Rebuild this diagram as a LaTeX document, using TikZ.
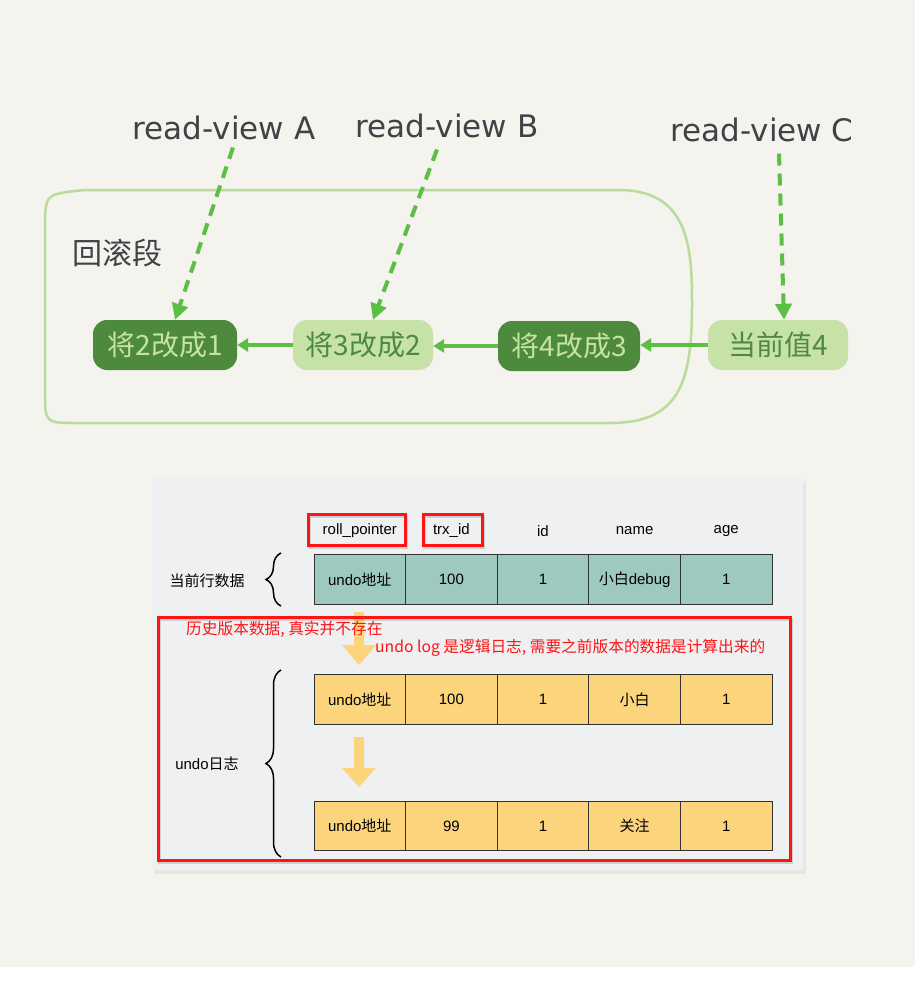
\documentclass[tikz,border=0pt]{standalone}
\usepackage{fontspec}
\setmainfont{Liberation Sans}
\newfontfamily\cjk{Noto Sans CJK SC}
\newfontfamily\hand{DejaVu Sans}
\usetikzlibrary{
    arrows.meta,
    decorations.pathreplacing
}

\definecolor{bgpaper}{HTML}{F4F3EE}
\definecolor{panelgray}{HTML}{EEF0F2}
\definecolor{darkleaf}{HTML}{4E8A3D}
\definecolor{lightleaf}{HTML}{C6E2A7}
\definecolor{leafline}{HTML}{B9DB9C}
\definecolor{leafarrow}{HTML}{5DBE45}
\definecolor{inkgray}{HTML}{3D4346}
\definecolor{rowteal}{HTML}{9DC9BF}
\definecolor{rowyellow}{HTML}{FCD47C}
\definecolor{markred}{HTML}{FF1414}

\begin{document}
\begin{tikzpicture}[x=1pt, y=-1pt,
    viewlabel/.style={text=inkgray, font=\hand\fontsize{31}{34}\selectfont},
    leafdark/.style={fill=darkleaf, text=lightleaf, rounded corners=14pt, minimum height=50pt,
        inner sep=0pt, font=\cjk\fontsize{28}{30}\selectfont},
    leaflight/.style={fill=lightleaf, text=darkleaf, rounded corners=14pt, minimum height=50pt,
        inner sep=0pt, font=\cjk\fontsize{28}{30}\selectfont},
    undoarrow/.style={leafarrow, line width=3.5pt, -{Triangle[length=11pt,width=13pt]}},
    viewarrow/.style={leafarrow, line width=4pt, dash pattern=on 12pt off 8pt,
        -{Triangle[length=16pt,width=16pt]}},
    cell/.style={draw=black!80, line width=0.8pt, minimum width=91.6pt, minimum height=49.5pt,
        inner sep=0pt, font=\fontsize{15}{18}\selectfont},
    colhead/.style={font=\fontsize{15}{18}\selectfont, inner sep=0pt},
    redbox/.style={draw=markred, line width=3pt},
    redshade/.style={draw=black, opacity=0.14, line width=3pt, shift={(1.5,2)}},
    rednote/.style={text=markred, anchor=west, inner sep=0pt, font=\cjk\fontsize{15.7}{18}\selectfont},
    bigarrow/.style={fill=rowyellow}
  ]
    \useasboundingbox (0,0) rectangle (915,983);
    \fill[white] (0,0) rectangle (915,983);
    \fill[bgpaper] (0,0) rectangle (915,967);

    % Rollback segment
    \draw[leafline, line width=2.5pt] (45,228) .. controls (45,194) .. (85,190) -- (622,190)
        .. controls (690,192) and (692,250) .. (692,305)
        .. controls (692,385) and (678,423) .. (610,423) -- (78,423)
        .. controls (45,423) .. (45,392) -- cycle;
    \node[text=inkgray, font=\cjk\fontsize{30}{32}\selectfont] (seg) at (117,253) {回滚段};

    % Versions in the undo chain
    \node[leafdark, minimum width=144pt] (v1) at (165,345) {将2改成1};
    \node[leaflight, minimum width=140pt] (v2) at (363,345) {将3改成2};
    \node[leafdark, minimum width=142pt] (v3) at (569,346) {将4改成3};
    \node[leaflight, minimum width=140pt] (v4) at (778,345) {当前值4};

    \draw[undoarrow] (v2.west) -- (v2.west -| v1.east);
    \draw[undoarrow] (v3.west) -- (v3.west -| v2.east);
    \draw[undoarrow] (v4.west) -- (v4.west -| v3.east);

    % Read views
    \node[viewlabel] (rvA) at (224,128) {read-view A};
    \node[viewlabel] (rvB) at (447,126) {read-view B};
    \node[viewlabel] (rvC) at (762,130) {read-view C};

    \draw[viewarrow] ([xshift=9pt, yshift=-4pt]rvA.south) -- ([xshift=10pt]v1.north);
    \draw[viewarrow] ([xshift=-10pt, yshift=-8pt]rvB.south) -- ([xshift=10pt]v2.north);
    \draw[viewarrow] ([xshift=17pt, yshift=-8pt]rvC.south) -- ([xshift=6pt]v4.north);

    % Table panel
    \fill[black, opacity=0.05] (154,481) rectangle (806,874);
    \fill[panelgray] (152,478) rectangle (803,870);

    % Column heads
    \foreach \txt [count=\i] in {roll\_pointer, trx\_id, id, name, age}
        \node[colhead] (h\i) at ({314+91.6*(\i-0.5)},531) {\txt};
    \draw[redshade] (308,514) rectangle (405,545);
    \draw[redshade] (423,514) rectangle (482,545);
    \draw[redbox] (308,514) rectangle (405,545);
    \draw[redbox] (423,514) rectangle (482,545);

    % Current row
    \foreach \txt [count=\i] in {undo{\cjk 地址}, 100, 1, {\cjk 小白}debug, 1}
        \node[cell, fill=rowteal] (a\i) at ({314+91.6*(\i-0.5)},579.5) {\txt};
    \node[font=\cjk\fontsize{15}{18}\selectfont] (cur) at (207,581) {当前行数据};
    \draw[decorate, decoration={brace, amplitude=15pt}, line width=1.5pt] (281,606) -- (281,553);

    % Undo log rows
    \foreach \txt [count=\i] in {undo{\cjk 地址}, 100, 1, {\cjk 小白}, 1}
        \node[cell, fill=rowyellow] (b\i) at ({314+91.6*(\i-0.5)},699.5) {\txt};
    \foreach \txt [count=\i] in {undo{\cjk 地址}, 99, 1, {\cjk 关注}, 1}
        \node[cell, fill=rowyellow] (c\i) at ({314+91.6*(\i-0.5)},826) {\txt};
    \node[font=\fontsize{15}{18}\selectfont] (log) at (207,764) {undo{\cjk 日志}};
    \draw[decorate, decoration={brace, amplitude=15pt}, line width=1.5pt] (281,857) -- (281,670);

    % Block arrows
    \fill[bigarrow] (354,612) -- (364,612) -- (364,645) -- (376,645) -- (359,665)
        -- (342,645) -- (354,645) -- cycle;
    \fill[bigarrow] (354,737) -- (364,737) -- (364,768) -- (376,768) -- (359,787)
        -- (342,768) -- (354,768) -- cycle;

    % Red marks
    \draw[redshade] (158,617) rectangle (790,860);
    \draw[redbox] (158,617) rectangle (790,860);
    \node[rednote] (note1) at (186,629) {历史版本数据, 真实并不存在};
    \node[rednote] (note2) at (375,648) {undo log 是逻辑日志, 需要之前版本的数据是计算出来的};
\end{tikzpicture}
\end{document}
